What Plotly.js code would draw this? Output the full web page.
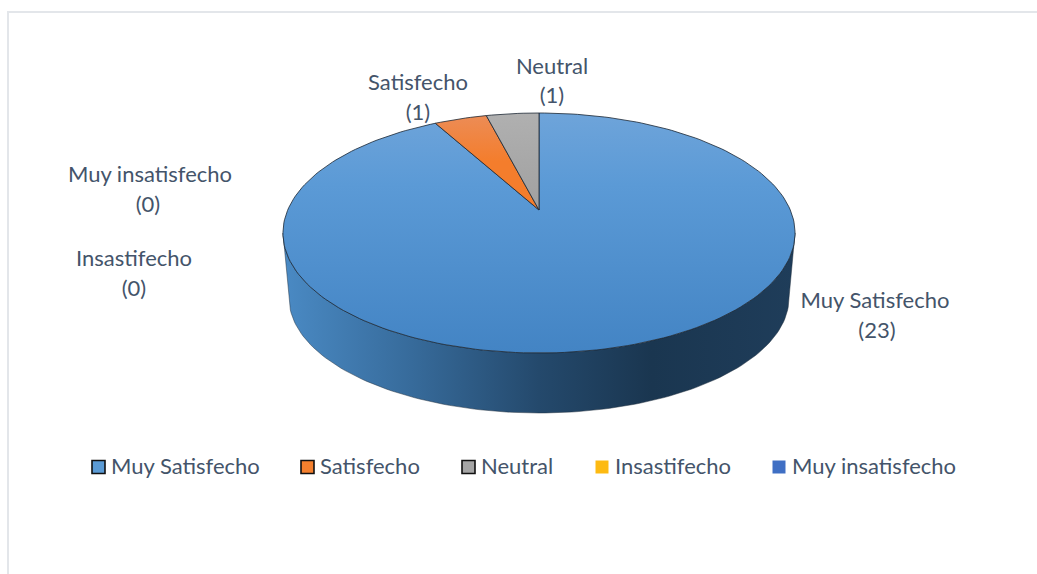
<!DOCTYPE html>
<html>
<head>
<meta charset="utf-8">
<script src="https://cdn.plot.ly/plotly-3.0.1.min.js"></script>
<style>html,body{margin:0;padding:0;background:#fff}#chart{width:1037px;height:574px}svg text{font-variant-ligatures:none}</style>
</head>
<body>
<div id="chart"></div>
<script>
// Data
var categories = ['Muy Satisfecho', 'Satisfecho', 'Neutral', 'Insastifecho', 'Muy insatisfecho'];
var counts = [23, 1, 1, 0, 0];

// Styles
var sliceFills = [
  [[0, '#6ea4da'], [0.3, '#5b9ad6'], [1, '#4384c4']],
  [[0, '#ec8d58'], [0.5, '#f47d2c'], [1, '#f47d2c']],
  [[0, '#b0b0b0'], [1, '#a0a0a0']]
];
var swatchColors = ['#5b9bd5', '#f4802e', '#a5a5a5', '#fdba12', '#3f6fc4'];
var swatchLines = ['#111111', '#111111', '#111111', 'rgba(0,0,0,0)', 'rgba(0,0,0,0)'];
var swatchX = [98.5, 307.5, 468.5, 602, 779];
var legendTextX = [111, 320, 481, 615, 792];
var labelX = [875, 418, 552, 134, 150];
var valueX = [877, 418, 552, 134, 148];
var nameY = [302, 84, 68, 260, 176];
var valueY = [332, 114, 97, 290, 206];
var textColor = '#44546a';
var fontFamily = 'Lato, Carlito, sans-serif';
var fontSize = 22;

// Projection of the tilted disc (screen px coordinates on hidden axes)
var cx = 539, apexY = 210, topA = 251.3, topB = 115.6, k = 0.1917;
function project(turn) {
  var a = turn * 2 * Math.PI;        // clockwise from 12 o'clock
  var u = Math.sin(a), v = Math.cos(a), w = 1 + k * v;
  return [cx + topA * u / w, apexY - topB * v / w];
}

var total = counts.reduce(function (s, c) { return s + c; }, 0);
var traces = [];

// Side wall: lower half of the top rim joined to the lower half of the base rim
var rimCy = 233, rimRx = 256, rimRy = 120, baseCy = 298, baseRx = 250, baseRy = 115;
var wallX = [], wallY = [], i, t;
for (i = 0; i <= 120; i++) {
  t = Math.PI * i / 120;
  wallX.push(cx + rimRx * Math.cos(t)); wallY.push(rimCy + rimRy * Math.sin(t));
}
for (i = 120; i >= 0; i--) {
  t = Math.PI * i / 120;
  wallX.push(cx + baseRx * Math.cos(t)); wallY.push(baseCy + baseRy * Math.sin(t));
}
wallX.push(wallX[0]); wallY.push(wallY[0]);
traces.push({
  x: wallX, y: wallY, mode: 'lines', fill: 'toself', hoverinfo: 'skip', showlegend: false,
  line: {color: 'rgba(30,45,60,0.6)', width: 0.8},
  fillcolor: '#2d5b87',
  fillgradient: {
    type: 'horizontal', start: 283, stop: 795,
    colorscale: [[0, '#4a8ac4'], [0.25, '#376b9b'], [0.5, '#24496c'], [0.72, '#1a3650'], [1, '#1f3d5a']]
  }
});

// Top slices, computed from the counts
var cum = 0;
counts.forEach(function (c, idx) {
  if (c === 0) return;
  var sx = [cx], sy = [apexY];
  var n = Math.max(4, Math.round(240 * c / total));
  var startTurn = cum / total, endTurn = (cum + c) / total;
  for (var j = 0; j <= n; j++) {
    var p = project(startTurn + (endTurn - startTurn) * j / n);
    sx.push(p[0]); sy.push(p[1]);
  }
  sx.push(cx); sy.push(apexY);
  traces.push({
    x: sx, y: sy, mode: 'lines', fill: 'toself', hoverinfo: 'skip', showlegend: false,
    line: {color: '#1c2733', width: 0.8},
    fillcolor: swatchColors[idx],
    fillgradient: {type: 'vertical', start: 113, stop: idx > 0 ? 210 : 353, colorscale: sliceFills[idx]}
  });
  cum += c;
});

// Data labels: name line and value line
traces.push({
  x: labelX, y: nameY, text: categories, mode: 'text', textposition: 'middle center',
  textfont: {family: fontFamily, size: fontSize, color: textColor}, hoverinfo: 'skip', showlegend: false
});
traces.push({
  x: valueX, y: valueY, text: counts.map(function (c) { return '(' + c + ')'; }), mode: 'text', textposition: 'middle center',
  textfont: {family: fontFamily, size: fontSize, color: textColor}, hoverinfo: 'skip', showlegend: false
});

// Legend row
traces.push({
  x: swatchX, y: categories.map(function () { return 467; }),
  mode: 'markers',
  marker: {symbol: 'square', size: 13, color: swatchColors, line: {color: swatchLines, width: 1.6}},
  hoverinfo: 'skip', showlegend: false
});
traces.push({
  x: legendTextX, y: categories.map(function () { return 468; }), text: categories,
  mode: 'text', textposition: 'middle right',
  textfont: {family: fontFamily, size: fontSize, color: textColor}, hoverinfo: 'skip', showlegend: false
});

var layout = {
  width: 1037, height: 574, margin: {l: 0, r: 0, t: 0, b: 0, pad: 0},
  paper_bgcolor: '#ffffff', plot_bgcolor: '#ffffff', showlegend: false,
  font: {family: fontFamily, color: textColor},
  xaxis: {range: [0, 1037], visible: false, fixedrange: true},
  yaxis: {range: [574, 0], visible: false, fixedrange: true},
  shapes: [
    {type: 'line', xref: 'x', yref: 'y', x0: 8, x1: 8, y0: 12, y1: 574, line: {color: '#e3e6ea', width: 2}},
    {type: 'line', xref: 'x', yref: 'y', x0: 7, x1: 1037, y0: 12, y1: 12, line: {color: '#e3e6ea', width: 2}}
  ]
};
Plotly.newPlot('chart', traces, layout, {displayModeBar: false, staticPlot: true});
</script>
</body>
</html>
